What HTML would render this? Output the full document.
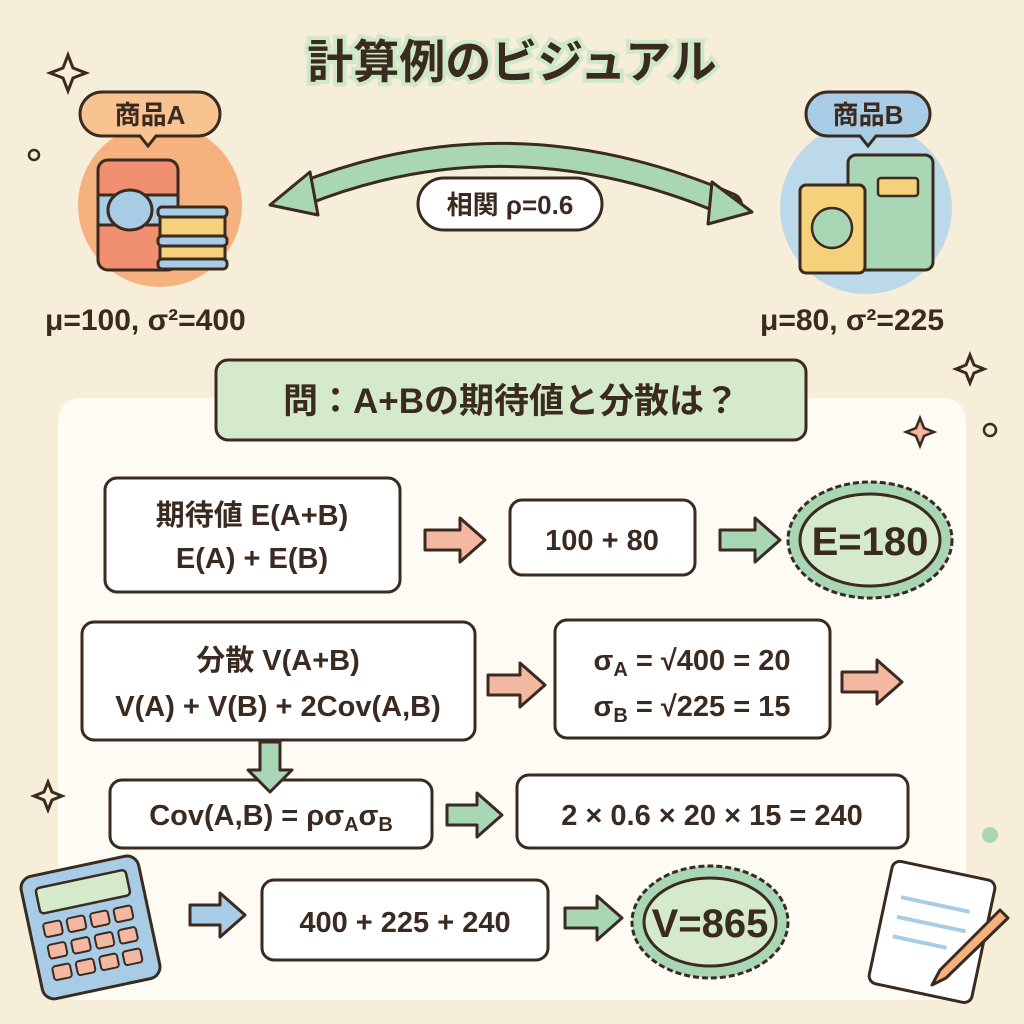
<!DOCTYPE html>
<html><head><meta charset="utf-8"><style>
html,body{margin:0;padding:0;width:1024px;height:1024px;overflow:hidden;background:#f7eed9}
svg text{font-family:"Liberation Sans","Noto Sans CJK JP",sans-serif;fill:#3a2a20;font-weight:bold}
</style></head><body>
<svg width="1024" height="1024" viewBox="0 0 1024 1024" xmlns="http://www.w3.org/2000/svg">
<defs>
<marker id="ah" markerWidth="4" markerHeight="4" refX="2" refY="2" orient="auto"><path d="M0,0 L4,2 L0,4 Z" fill="#a9d6b5" stroke="#3a2a20" stroke-width="0.4"/></marker>
</defs>
<rect width="1024" height="1024" fill="#f7eed9"/>
<rect x="58" y="398" width="908" height="602" rx="22" fill="#fdfbf4"/>
<!-- title -->
<text x="512" y="78" text-anchor="middle" font-size="46" stroke="#cfe8c8" stroke-width="8" paint-order="stroke" style="fill:#3a2a20">計算例のビジュアル</text>
<!-- sparkles -->
<path d="M68,55 l5,13 13,5 -13,5 -5,13 -5,-13 -13,-5 13,-5z" fill="none" stroke="#3a2a20" stroke-width="3"/>
<path d="M970,355 l4,10 10,4 -10,4 -4,10 -4,-10 -10,-4 10,-4z" fill="none" stroke="#3a2a20" stroke-width="3"/>
<path d="M920,418 l4,10 10,4 -10,4 -4,10 -4,-10 -10,-4 10,-4z" fill="#f4b89a" stroke="#3a2a20" stroke-width="2.5"/>
<path d="M48,782 l4,10 10,4 -10,4 -4,10 -4,-10 -10,-4 10,-4z" fill="none" stroke="#3a2a20" stroke-width="3"/>
<circle cx="34" cy="155" r="5" fill="none" stroke="#3a2a20" stroke-width="2.5"/>
<circle cx="990" cy="430" r="6" fill="none" stroke="#3a2a20" stroke-width="2.5"/>
<circle cx="990" cy="835" r="8" fill="#a9d6b5"/>
<!-- product A -->
<circle cx="160" cy="205" r="82" fill="#f6b27e"/>
<rect x="98" y="160" width="80" height="110" rx="10" fill="#f09070" stroke="#3a2a20" stroke-width="3"/>
<rect x="98" y="195" width="80" height="30" fill="#a8cce6" stroke="#3a2a20" stroke-width="3"/>
<ellipse cx="130" cy="210" rx="22" ry="20" fill="#a8cce6" stroke="#3a2a20" stroke-width="3"/>
<rect x="160" y="207" width="65" height="62" rx="4" fill="#f6d17c" stroke="#3a2a20" stroke-width="3"/>
<rect x="158" y="207" width="69" height="10" rx="4" fill="#a8cce6" stroke="#3a2a20" stroke-width="3"/>
<rect x="158" y="236" width="69" height="10" rx="4" fill="#a8cce6" stroke="#3a2a20" stroke-width="3"/>
<rect x="158" y="259" width="69" height="10" rx="4" fill="#a8cce6" stroke="#3a2a20" stroke-width="3"/>
<path d="M102,92 h96 a22,22 0 0 1 0,44 h-42 l-8,10 -8,-10 h-38 a22,22 0 0 1 0,-44z" fill="#f8c391" stroke="#3a2a20" stroke-width="3"/>
<text x="150" y="124" text-anchor="middle" font-size="26">商品A</text>
<!-- product B -->
<circle cx="866" cy="208" r="86" fill="#bcd9ea"/>
<rect x="848" y="155" width="85" height="115" rx="8" fill="#a9d6b5" stroke="#3a2a20" stroke-width="3"/>
<rect x="878" y="178" width="40" height="18" rx="3" fill="#f6d17c" stroke="#3a2a20" stroke-width="2.5"/>
<rect x="800" y="185" width="65" height="88" rx="6" fill="#f6d17c" stroke="#3a2a20" stroke-width="3"/>
<circle cx="832" cy="228" r="20" fill="#a9d6b5" stroke="#3a2a20" stroke-width="2.5"/>
<path d="M828,92 h80 a22,22 0 0 1 0,44 h-32 l-8,10 -8,-10 h-32 a22,22 0 0 1 0,-44z" fill="#a8cce6" stroke="#3a2a20" stroke-width="3"/>
<text x="868" y="124" text-anchor="middle" font-size="26">商品B</text>
<!-- correlation arrow -->
<path d="M300,195 Q510,110 730,205" fill="none" stroke="#3a2a20" stroke-width="26" stroke-linecap="round"/>
<path d="M300,195 Q510,110 730,205" fill="none" stroke="#a9d6b5" stroke-width="20"/>
<path d="M270,205 L310,172 L318,215 Z" fill="#a9d6b5" stroke="#3a2a20" stroke-width="3" stroke-linejoin="round"/>
<path d="M752,212 L712,182 L708,224 Z" fill="#a9d6b5" stroke="#3a2a20" stroke-width="3" stroke-linejoin="round"/>
<rect x="418" y="178" width="184" height="52" rx="26" fill="#fff" stroke="#3a2a20" stroke-width="3"/>
<text x="510" y="214" text-anchor="middle" font-size="26">相関 ρ=0.6</text>
<text x="45" y="330" font-size="30">μ=100, σ²=400</text>
<text x="760" y="330" font-size="30">μ=80, σ²=225</text>
<!-- question -->
<rect x="216" y="360" width="590" height="80" rx="12" fill="#d4eacb" stroke="#3a2a20" stroke-width="3"/>
<text x="511" y="413" text-anchor="middle" font-size="35">問：A+Bの期待値と分散は？</text>
<g stroke="#3a2a20" stroke-width="3" fill="#fff">
<rect x="105" y="478" width="295" height="114" rx="12"/>
<rect x="510" y="500" width="185" height="75" rx="12"/>
<rect x="82" y="622" width="393" height="118" rx="12"/>
<rect x="555" y="620" width="275" height="118" rx="12"/>
<rect x="110" y="780" width="322" height="68" rx="12"/>
<rect x="517" y="775" width="391" height="73" rx="12"/>
<rect x="262" y="880" width="286" height="80" rx="12"/>
</g>
<text x="252" y="525" text-anchor="middle" font-size="29">期待値 E(A+B)</text>
<text x="252" y="568" text-anchor="middle" font-size="29">E(A) + E(B)</text>
<text x="602" y="550" text-anchor="middle" font-size="29">100 + 80</text>
<text x="278" y="670" text-anchor="middle" font-size="29">分散 V(A+B)</text>
<text x="278" y="716" text-anchor="middle" font-size="29">V(A) + V(B) + 2Cov(A,B)</text>
<text x="692" y="670" text-anchor="middle" font-size="29">σ<tspan font-size="20" dy="6">A</tspan><tspan dy="-6"> = √400 = 20</tspan></text>
<text x="692" y="716" text-anchor="middle" font-size="29">σ<tspan font-size="20" dy="6">B</tspan><tspan dy="-6"> = √225 = 15</tspan></text>
<text x="271" y="825" text-anchor="middle" font-size="29">Cov(A,B) = ρσ<tspan font-size="20" dy="6">A</tspan><tspan dy="-6">σ</tspan><tspan font-size="20" dy="6">B</tspan></text>
<text x="712" y="825" text-anchor="middle" font-size="29">2 × 0.6 × 20 × 15 = 240</text>
<text x="405" y="932" text-anchor="middle" font-size="29">400 + 225 + 240</text>
<!-- block arrows -->
<g stroke="#3a2a20" stroke-width="3" stroke-linejoin="round">
<path d="M425,530 h35 v-12 l25,22 -25,22 v-12 h-35z" fill="#f4b8a2"/>
<path d="M720,530 h35 v-12 l25,22 -25,22 v-12 h-35z" fill="#a9d6b5"/>
<path d="M488,675 h32 v-12 l25,22 -25,22 v-12 h-32z" fill="#f4b8a2"/>
<path d="M842,672 h35 v-12 l25,22 -25,22 v-12 h-35z" fill="#f4b8a2"/>
<path d="M260,742 h20 v28 h12 l-22,22 -22,-22 h12z" fill="#a9d6b5"/>
<path d="M447,805 h30 v-12 l25,22 -25,22 v-12 h-30z" fill="#a9d6b5"/>
<path d="M190,905 h30 v-12 l25,22 -25,22 v-12 h-30z" fill="#a8cce6"/>
<path d="M565,908 h32 v-12 l25,22 -25,22 v-12 h-32z" fill="#a9d6b5"/>
</g>
<!-- seals -->
<g stroke="#3a2a20" stroke-width="3">
<ellipse cx="870" cy="540" rx="82" ry="58" fill="#a9d6b5" stroke-dasharray="6 3"/>
<ellipse cx="870" cy="540" rx="70" ry="46" fill="#d4eacb"/>
<ellipse cx="710" cy="922" rx="78" ry="56" fill="#a9d6b5" stroke-dasharray="6 3"/>
<ellipse cx="710" cy="922" rx="66" ry="44" fill="#d4eacb"/>
</g>
<text x="870" y="555" text-anchor="middle" font-size="40">E=180</text>
<text x="710" y="937" text-anchor="middle" font-size="40">V=865</text>
<!-- calculator -->
<g transform="rotate(-12 90 925)">
<rect x="30" y="865" width="120" height="125" rx="12" fill="#a8cce6" stroke="#3a2a20" stroke-width="3"/>
<rect x="44" y="878" width="92" height="26" rx="4" fill="#d4eacb" stroke="#3a2a20" stroke-width="2.5"/>
<g fill="#f4b8a2" stroke="#3a2a20" stroke-width="2">
<rect x="44" y="914" width="18" height="14" rx="3"/><rect x="68" y="914" width="18" height="14" rx="3"/><rect x="92" y="914" width="18" height="14" rx="3"/><rect x="116" y="914" width="18" height="14" rx="3"/>
<rect x="44" y="936" width="18" height="14" rx="3"/><rect x="68" y="936" width="18" height="14" rx="3"/><rect x="92" y="936" width="18" height="14" rx="3"/><rect x="116" y="936" width="18" height="14" rx="3"/>
<rect x="44" y="958" width="18" height="14" rx="3"/><rect x="68" y="958" width="18" height="14" rx="3"/><rect x="92" y="958" width="18" height="14" rx="3"/><rect x="116" y="958" width="18" height="14" rx="3"/>
</g></g>
<!-- notepad -->
<g transform="rotate(12 935 930)">
<rect x="880" y="870" width="105" height="125" rx="8" fill="#fff" stroke="#3a2a20" stroke-width="3"/>
<g stroke="#a8cce6" stroke-width="4"><line x1="895" y1="905" x2="965" y2="905"/><line x1="895" y1="925" x2="965" y2="925"/><line x1="895" y1="945" x2="950" y2="945"/></g>
</g>
<path d="M1000,910 L940,970 L932,985 L946,978 L1008,918 Z" fill="#f6b27e" stroke="#3a2a20" stroke-width="3" stroke-linejoin="round"/>
</svg>
</body></html>
